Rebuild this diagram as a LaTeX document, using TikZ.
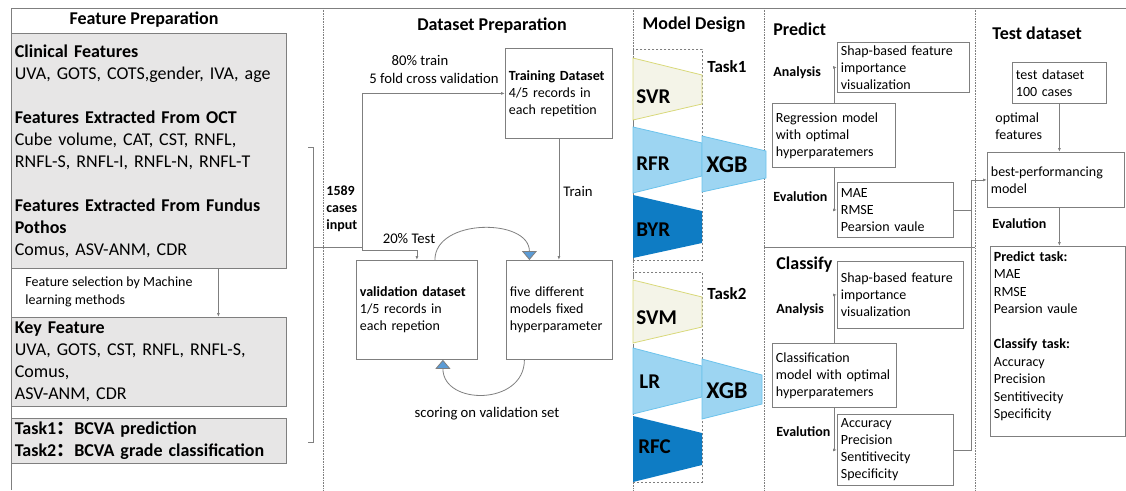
\documentclass[tikz,border=0pt]{standalone}
\usepackage{fontspec}
\setmainfont{Carlito}
\newfontfamily\cjk{Noto Sans CJK SC}
\usetikzlibrary{arrows.meta, positioning}

\definecolor{boxgray}{HTML}{E7E6E6}
\definecolor{linegray}{HTML}{7F7F7F}
\definecolor{svrfill}{HTML}{F4F4E8}
\definecolor{svrline}{HTML}{D9D97A}
\definecolor{lblue}{HTML}{9DD5F2}
\definecolor{lblueline}{HTML}{6CC3EC}
\definecolor{dblue}{HTML}{0E7CC4}
\definecolor{triblue}{HTML}{5B9BD5}

\begin{document}
\begin{tikzpicture}[x=1pt, y=-1pt, line width=0.8pt,
  box/.style={draw=linegray, fill=white, anchor=north west, align=left, inner xsep=3.5pt, inner ysep=2pt, font=\fontsize{14}{17}\selectfont},
  graybox/.style={box, fill=boxgray, font=\fontsize{18}{22}\selectfont},
  wh/.style 2 args={text width=#1pt-7pt, minimum height=#2pt},
  dashbox/.style={draw=linegray, dashed, dash pattern=on 2pt off 2pt, line width=0.6pt, anchor=north west, inner sep=0},
  title/.style={font=\bfseries\fontsize{18}{22}\selectfont, inner sep=0},
  small/.style={font=\fontsize{14}{17}\selectfont, align=left, inner sep=0},
  dsmall/.style={small, font=\fontsize{14.7}{17}\selectfont},
  bsmall/.style={small, font=\bfseries\fontsize{14}{17}\selectfont},
  mlabel/.style={font=\bfseries\fontsize{21}{24}\selectfont, anchor=west, inner sep=0},
  xgblabel/.style={mlabel, font=\bfseries\fontsize{24}{26}\selectfont},
  line/.style={draw=linegray},
  sep/.style={draw=linegray, densely dotted, line width=0.6pt},
  arrow/.style={draw=linegray, -{Latex[length=4pt,width=3pt]}},
  cycarrow/.style={draw=linegray, -{Triangle[length=9pt,width=15pt,fill=triblue]}}
]
\useasboundingbox (0,0) rectangle (1126,490);

% frame and column separators
\draw[line] (11,490) -- (11,8) -- (1126,8);
\foreach \sx in {323,633,764,975}
  \draw[sep] (\sx,8) -- (\sx,490);
\draw[line] (764,247) -- (975,247);

% Feature Preparation
\node[title] (fptitle) at (144,20) {Feature Preparation};
\node[graybox, wh={275}{235}] (clin) at (11,33) {\textbf{Clinical Features}\\
  UVA, GOTS, COTS,gender, IVA, age\\[22pt]
  \textbf{Features Extracted From OCT}\\
  Cube volume, CAT, CST, RNFL,\\
  RNFL-S, RNFL-I, RNFL-N, RNFL-T\\[22pt]
  \textbf{Features Extracted From Fundus}\\
  \textbf{Pothos}\\
  Comus, ASV-ANM, CDR};
\node[small, font=\fontsize{14}{18}\selectfont, anchor=west] (seltext) at (25,292) {Feature selection by Machine\\learning methods};
\node[graybox, wh={275}{89}] (key) at (11,317) {\textbf{Key Feature}\\
  UVA, GOTS, CST, RNFL, RNFL-S,\\
  Comus,\\
  ASV-ANM, CDR};
\node[graybox, wh={275}{45}, font=\bfseries\fontsize{18}{22}\selectfont] (tasks) at (11,418)
  {Task1{\cjk ：}BCVA prediction\\Task2{\cjk ：}BCVA grade classification};
\draw[arrow] ([xshift=69.5pt]clin.south) -- ([xshift=69.5pt]key.north);

% bracket to dataset split
\draw[line] (308,147) -- (313,147) -- (313,442) -- (308,442);
\coordinate (brk) at (313,247);
\coordinate (split) at (362,247);
\node[bsmall, anchor=west] (cases) at (326,209) {1589\\cases\\input};

% Dataset Preparation
\node[title] (dptitle) at (492,26) {Dataset Preparation};
\node[box, wh={107}{90}] (train) at (505,48) {\textbf{Training Dataset}\\4/5 records in\\each repetition};
\node[box, wh={121}{99}] (valid) at (356,260) {\textbf{validation dataset}\\1/5 records in\\each repetion};
\node[box, wh={106}{99}] (five) at (506,260) {five different\\models fixed\\hyperparameter};
\node[dsmall] (trlbl) at (420,61) {80\% train};
\node[dsmall] (cvlbl) at (434,78) {5 fold cross validation};
\node[dsmall] (trainlbl) at (578,191) {Train};
\node[dsmall] (testlbl) at (409,239) {20\% Test};
\node[dsmall] (scorelbl) at (487,414) {scoring on validation set};

\draw[line] (brk) -- (split);
\draw[arrow] (split) |- (train.west);
\draw[arrow] (split) -- ++(0,3) -| (valid.north);
\draw[arrow] (train.south) -- (train.south |- five.north);
\draw[cycarrow] ([xshift=18pt]valid.north) .. controls +(0,-42) and +(0,-42) .. ([xshift=-30pt]five.north);
\draw[cycarrow] ([xshift=-35pt]five.south) .. controls +(0,46) and +(0,46) .. ([xshift=26pt]valid.south);

% Model Design
\node[title] (mdtitle) at (694,25) {Model Design};
\node[dashbox, minimum width=69pt, minimum height=211pt] (task1box) at (633,49) {};
\node[dashbox, minimum width=69pt, minimum height=210pt] (task2box) at (633,272) {};
\node[bsmall, font=\bfseries\fontsize{17}{20}\selectfont, anchor=west] (task1) at (707,67) {Task1};
\node[bsmall, font=\bfseries\fontsize{17}{20}\selectfont, anchor=west] (task2) at (707,294) {Task2};

\filldraw[fill=svrfill, draw=svrline] (633,58) -- (702,75) -- (702,104) -- (633,120) -- cycle;
\filldraw[fill=lblue, draw=lblueline] (633,127) -- (702,143) -- (702,176) -- (633,193) -- cycle;
\fill[dblue] (633,195) -- (702,211) -- (702,243) -- (633,258) -- cycle;
\filldraw[fill=lblue, draw=lblueline] (702,136) -- (766,151) -- (766,178) -- (702,192) -- cycle;
\filldraw[fill=svrfill, draw=svrline] (633,280) -- (702,297) -- (702,327) -- (633,343) -- cycle;
\filldraw[fill=lblue, draw=lblueline] (633,348) -- (702,366) -- (702,397) -- (633,414) -- cycle;
\fill[dblue] (633,416) -- (702,433) -- (702,465) -- (633,482) -- cycle;
\filldraw[fill=lblue, draw=lblueline] (702,359) -- (762,375) -- (762,404) -- (702,419) -- cycle;

\node[mlabel] (svr) at (636,97) {SVR};
\node[mlabel] (rfr) at (636,164) {RFR};
\node[mlabel] (byr) at (636,230) {BYR};
\node[xgblabel] (xgbone) at (706,165) {XGB};
\node[mlabel] (svm) at (636,318) {SVM};
\node[mlabel] (lr) at (639,382) {LR};
\node[mlabel] (rfc) at (638,447) {RFC};
\node[xgblabel] (xgbtwo) at (706,391) {XGB};

% Predict
\node[title, anchor=west] (predtitle) at (773,29) {Predict};
\node[bsmall, anchor=west] (anP) at (773,73) {Analysis};
\node[bsmall, anchor=west] (evP) at (773,197) {Evalution};
\node[box, wh={132}{50}] (shapP) at (837,42) {Shap-based feature\\importance\\visualization};
\node[box, wh={123}{64}] (regP) at (772,103) {Regression model\\with optimal\\hyperparatemers};
\node[box, wh={116}{55}] (maeP) at (837,182) {MAE\\RMSE\\Pearsion vaule};
\draw[arrow] (regP.north) |- (shapP.west);
\draw[arrow] (regP.south) |- (maeP.west);

% Classify
\node[title, anchor=west] (clstitle) at (776,265) {Classify};
\node[bsmall, anchor=west] (anC) at (776,310) {Analysis};
\node[bsmall, anchor=west] (evC) at (776,432) {Evalution};
\node[box, wh={126}{67}] (shapC) at (837,261) {Shap-based feature\\importance\\visualization};
\node[box, wh={124}{64}] (clsC) at (772,343) {Classification\\model with optimal\\hyperparatemers};
\node[box, wh={116}{71}] (evalC) at (837,414) {Accuracy\\Precision\\Sentitivecity\\Specificity};
\draw[arrow] (clsC.north) |- (shapC.west);
\draw[arrow] (clsC.south) |- (evalC.west);

% Test dataset
\node[title, anchor=west] (tdtitle) at (992,33) {Test dataset};
\node[box, wh={94}{41}] (test) at (1012,62) {test dataset\\100 cases};
\node[small, anchor=west] (optlbl) at (995,126) {optimal\\features};
\node[box, wh={137}{55}] (best) at (987,152) {best-performancing\\model};
\node[bsmall, anchor=west] (evT) at (992,224) {Evalution};
\node[box, text width=128pt, text height=12pt, text depth=172pt, inner ysep=3pt, font=\fontsize{14}{17.5}\selectfont] (result) at (990,246)
  {\textbf{Predict task:}\\MAE\\RMSE\\Pearsion vaule\\[17.5pt]\textbf{Classify task:}\\Accuracy\\Precision\\Sentitivecity\\Specificity};
\draw[arrow] (test.south) -- (test.south |- best.north);
\draw[arrow] (test.south |- best.south) -- (test.south |- result.north);

% best models into test
\coordinate (jx) at (971,178);
\draw[line] (maeP.east) -- (maeP.east -| jx);
\draw[arrow] (evalC.east) -| (best.west -| jx) -- (best.west);
\end{tikzpicture}
\end{document}
